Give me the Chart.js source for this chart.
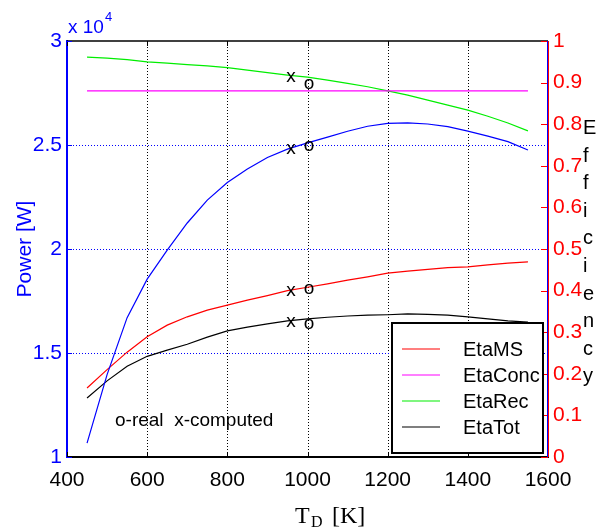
<!DOCTYPE html>
<html>
<head>
<meta charset="utf-8">
<script src="https://cdn.jsdelivr.net/npm/chart.js@4.4.1/dist/chart.umd.min.js"></script>
<style>
  html, body { margin: 0; background: #fff; }
  #wrap { width: 602px; height: 529px; }
</style>
</head>
<body>
<div id="wrap"><canvas id="c"></canvas></div>
<script>
// temperatures T_D [K]
const temps = [450, 500, 550, 600, 650, 700, 750, 800, 850, 900, 950, 1000,
               1050, 1100, 1150, 1200, 1250, 1300, 1350, 1400, 1450, 1500, 1550];

// power [W] (left axis)
const power = [10670, 13960, 16700, 18550, 19950, 21250, 22350, 23200, 23850, 24400, 24800, 25100,
               25380, 25660, 25900, 26040, 26060, 26010, 25880, 25670, 25430, 25160, 24760];

// efficiencies (right axis)
const etaMS = [0.166, 0.210, 0.252, 0.289, 0.317, 0.337, 0.353, 0.365, 0.377, 0.388, 0.400, 0.408,
               0.416, 0.425, 0.433, 0.442, 0.447, 0.451, 0.455, 0.457, 0.462, 0.466, 0.469];
const etaConc = [0.88, 0.88, 0.88, 0.88, 0.88, 0.88, 0.88, 0.88, 0.88, 0.88, 0.88, 0.88,
                 0.88, 0.88, 0.88, 0.88, 0.88, 0.88, 0.88, 0.88, 0.88, 0.88, 0.88];
const etaRec = [0.961, 0.959, 0.955, 0.950, 0.947, 0.943, 0.940, 0.936, 0.930, 0.924, 0.918, 0.913,
                0.906, 0.898, 0.890, 0.880, 0.870, 0.858, 0.846, 0.834, 0.819, 0.803, 0.784];
const etaTot = [0.142, 0.183, 0.218, 0.242, 0.257, 0.271, 0.288, 0.303, 0.312, 0.320, 0.327, 0.332,
                0.336, 0.339, 0.341, 0.342, 0.344, 0.343, 0.341, 0.337, 0.332, 0.327, 0.324];

// tick values
const xTicks = [400, 600, 800, 1000, 1200, 1400, 1600];
const powerTicks = [10000, 15000, 20000, 25000, 30000];
const etaTicks = [0, 0.1, 0.2, 0.3, 0.4, 0.5, 0.6, 0.7, 0.8, 0.9, 1];

// "x" computed / "o" real markers: [T computed, T real]
const markT = [959, 1004];
const markPower = [24840, 24970];
const markRec = [0.914, 0.896];
const markMS = [0.400, 0.405];
const markTot = [0.325, 0.320];

const SANS = '"Liberation Sans", Arial, sans-serif';
const SERIF = '"Liberation Serif", "Times New Roman", serif';

const pts = arr => temps.map((t, i) => ({x: t, y: arr[i]}));
const line = (label, arr, color, axis) => ({
  label: label, data: pts(arr), yAxisID: axis,
  borderColor: color, borderWidth: 1.2, pointRadius: 0, tension: 0, fill: false
});

// dotted grid (matlab style) under the lines
const grid = {
  id: 'grid',
  beforeDatasetsDraw(chart) {
    const {ctx, chartArea: a, scales} = chart;
    ctx.save();
    ctx.lineWidth = 1;
    ctx.setLineDash([1, 2]);
    ctx.strokeStyle = '#000';
    xTicks.slice(1, -1).forEach(v => {
      const px = Math.round(scales.x.getPixelForValue(v)) + 0.5;
      ctx.beginPath(); ctx.moveTo(px, a.top); ctx.lineTo(px, a.bottom); ctx.stroke();
    });
    ctx.strokeStyle = '#0000ff';
    powerTicks.slice(1, -1).forEach(v => {
      const py = Math.round(scales.y.getPixelForValue(v)) + 0.5;
      ctx.beginPath(); ctx.moveTo(a.left, py); ctx.lineTo(a.right, py); ctx.stroke();
    });
    ctx.restore();
  }
};

const decor = {
  id: 'decor',
  afterDatasetsDraw(chart) {
    const {ctx, chartArea: a, scales} = chart;
    const sx = scales.x, sy = scales.y, sr = scales.y2;
    ctx.save();

    // top frame
    ctx.strokeStyle = '#000';
    ctx.lineWidth = 1.5;
    ctx.beginPath(); ctx.moveTo(a.left, a.top); ctx.lineTo(a.right, a.top); ctx.stroke();

    // inward ticks
    ctx.lineWidth = 1;
    ctx.strokeStyle = '#000';
    xTicks.forEach(v => {
      const px = Math.round(sx.getPixelForValue(v)) + 0.5;
      ctx.beginPath();
      ctx.moveTo(px, a.top); ctx.lineTo(px, a.top + 5);
      ctx.moveTo(px, a.bottom); ctx.lineTo(px, a.bottom - 5);
      ctx.stroke();
    });
    ctx.strokeStyle = '#0000ff';
    powerTicks.forEach(v => {
      const py = Math.round(sy.getPixelForValue(v)) + 0.5;
      ctx.beginPath(); ctx.moveTo(a.left, py); ctx.lineTo(a.left + 5, py); ctx.stroke();
    });
    ctx.strokeStyle = '#ff0000';
    etaTicks.forEach(v => {
      const py = Math.round(sr.getPixelForValue(v)) + 0.5;
      ctx.beginPath(); ctx.moveTo(a.right - 7, py); ctx.lineTo(a.right, py); ctx.stroke();
    });

    // markers as text
    ctx.font = '19px ' + SANS;
    ctx.fillStyle = '#000';
    ctx.textAlign = 'center';
    ctx.textBaseline = 'middle';
    const put = (vals, scale) => {
      ctx.fillText('x', sx.getPixelForValue(markT[0]), scale.getPixelForValue(vals[0]));
      ctx.fillText('o', sx.getPixelForValue(markT[1]), scale.getPixelForValue(vals[1]));
    };
    put(markPower, sy);
    put(markRec, sr);
    put(markMS, sr);
    put(markTot, sr);

    ctx.textAlign = 'left';
    ctx.textBaseline = 'alphabetic';
    ctx.fillText('o-real  x-computed', 115, 426);

    // legend box
    const lx = 392, ly = 323, lw = 151, lh = 130;
    ctx.fillStyle = '#fff';
    ctx.fillRect(lx, ly, lw, lh);
    ctx.strokeStyle = '#000';
    ctx.lineWidth = 2;
    ctx.strokeRect(lx, ly, lw, lh);
    ctx.font = '20px ' + SANS;
    ctx.textBaseline = 'middle';
    chart.data.datasets.slice(1).forEach((ds, i) => {
      const yy = 349 + i * 26;
      ctx.strokeStyle = ds.borderColor;
      ctx.lineWidth = 1.2;
      ctx.beginPath(); ctx.moveTo(402, yy); ctx.lineTo(440, yy); ctx.stroke();
      ctx.fillStyle = '#000';
      ctx.fillText(ds.label, 463, yy + 1);
    });

    // right axis: blue + red double line
    ctx.lineWidth = 1;
    ctx.strokeStyle = '#0000ff';
    ctx.beginPath(); ctx.moveTo(a.right - 0.5, a.top); ctx.lineTo(a.right - 0.5, a.bottom); ctx.stroke();
    ctx.strokeStyle = '#ff0000';
    ctx.beginPath(); ctx.moveTo(a.right + 0.5, a.top); ctx.lineTo(a.right + 0.5, a.bottom); ctx.stroke();

    // axis titles
    ctx.fillStyle = '#0000ff';
    ctx.font = '19px ' + SANS;
    ctx.textBaseline = 'alphabetic';
    ctx.fillText('x 10', 68, 33);
    ctx.font = '13px ' + SANS;
    ctx.fillText('4', 105, 21);

    ctx.save();
    ctx.translate(31, (a.top + a.bottom) / 2);
    ctx.rotate(-Math.PI / 2);
    ctx.font = '21px ' + SANS;
    ctx.textAlign = 'center';
    ctx.fillText('Power [W]', 0, 0);
    ctx.restore();

    ctx.fillStyle = '#000';
    ctx.font = '20px ' + SANS;
    ctx.textAlign = 'left';
    'Efficiency'.split('').forEach((ch, i) => ctx.fillText(ch, 583, 134 + i * 27.6));

    ctx.font = '24px ' + SERIF;
    ctx.fillText('T', 295, 523);
    ctx.font = '16px ' + SERIF;
    ctx.fillText('D', 311, 527);
    ctx.font = '24px ' + SERIF;
    ctx.fillText('[K]', 332, 523);

    ctx.restore();
  }
};

new Chart(document.getElementById('c'), {
  type: 'line',
  data: {
    datasets: [
      line('Power', power, '#0000ff', 'y'),
      line('EtaMS', etaMS, '#ff0000', 'y2'),
      line('EtaConc', etaConc, '#ff00ff', 'y2'),
      line('EtaRec', etaRec, '#00ee00', 'y2'),
      line('EtaTot', etaTot, '#000000', 'y2')
    ]
  },
  options: {
    responsive: true,
    maintainAspectRatio: false,
    animation: false,
    layout: { padding: { top: 41, left: 0, right: 0, bottom: 0 } },
    plugins: { legend: { display: false }, tooltip: { enabled: false } },
    scales: {
      x: {
        type: 'linear', min: 400, max: 1600,
        afterBuildTicks: s => { s.ticks = xTicks.map(v => ({value: v})); },
        afterFit: s => { s.height = 72; },
        grid: { drawOnChartArea: false, drawTicks: false },
        border: { color: '#000', width: 2 },
        ticks: { color: '#000', font: { family: SANS, size: 21 }, padding: 11, maxRotation: 0,
                 callback: v => String(v) }
      },
      y: {
        type: 'linear', position: 'left', min: 10000, max: 30000,
        afterBuildTicks: s => { s.ticks = powerTicks.map(v => ({value: v})); },
        afterFit: s => { s.width = 67; },
        grid: { drawOnChartArea: false, drawTicks: false },
        border: { color: '#0000ff', width: 2 },
        ticks: { color: '#0000ff', font: { family: SANS, size: 21 }, padding: 5,
                 callback: v => String(v / 10000) }
      },
      y2: {
        type: 'linear', position: 'right', min: 0, max: 1,
        afterBuildTicks: s => { s.ticks = etaTicks.map(v => ({value: v})); },
        afterFit: s => { s.width = 54; },
        grid: { drawOnChartArea: false, drawTicks: false },
        border: { display: false },
        ticks: { color: '#ff0000', font: { family: SANS, size: 21 }, padding: 5,
                 callback: v => String(Math.round(v * 10) / 10) }
      }
    }
  },
  plugins: [grid, decor]
});
</script>
</body>
</html>
